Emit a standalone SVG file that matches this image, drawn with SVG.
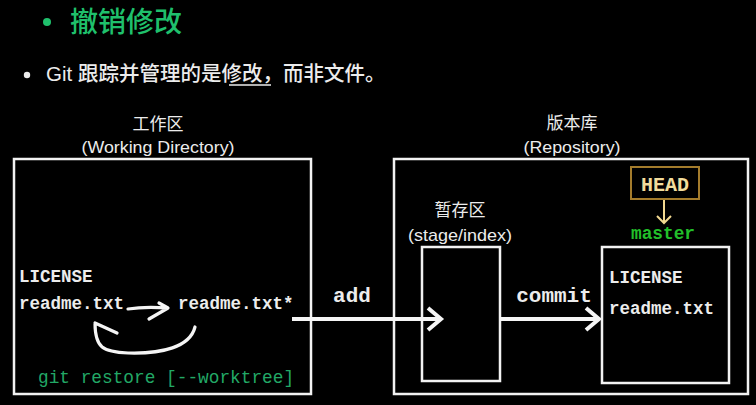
<svg xmlns="http://www.w3.org/2000/svg" width="756" height="405" viewBox="0 0 756 405">
<defs>
<style>
.box{fill:none;stroke:#f2f2f2;stroke-width:2.5}
.cjk{font-family:"Liberation Sans","Noto Sans CJK SC",sans-serif;fill:#ececec}
.lbl{font-family:"Liberation Sans","Noto Sans CJK SC",sans-serif;fill:#ececec;font-size:17px;text-anchor:middle}
.mono{font-family:"Liberation Mono",monospace;font-weight:bold;fill:#ececec;font-size:17.5px}
.cmd{font-family:"Liberation Mono",monospace;font-weight:bold;fill:#ececec;font-size:21px;text-anchor:middle}
.conn{fill:none;stroke:#f5f5f5;stroke-width:4}
.hand{fill:none;stroke:#f5f5f5;stroke-width:3.2;stroke-linecap:round;stroke-linejoin:round}
</style>
<marker id="chev" markerUnits="userSpaceOnUse" viewBox="-16 -14 20 28" refX="0" refY="0" markerWidth="20" markerHeight="28" orient="auto">
<path d="M-13,-11 L0,0 L-13,11" fill="none" stroke="#f5f5f5" stroke-width="4" stroke-linejoin="miter"/>
</marker>
</defs>
<rect width="756" height="405" fill="#000"/>

<g id="title">
<circle cx="47" cy="22" r="4" fill="#1fc06c"/>
<text x="70" y="32" class="cjk" font-size="28" font-weight="500" style="fill:#1fc06c">撤销修改</text>
</g>
<g id="subtitle">
<circle cx="27" cy="75" r="3.2" fill="#ececec"/>
<text x="46" y="81" class="cjk" font-size="20.5" font-weight="500">Git 跟踪并管理的是修改，而非文件。</text>
<line x1="229" y1="85" x2="271" y2="85" stroke="#ececec" stroke-width="1.4"/>
</g>

<g id="working-directory">
<rect class="box" x="14" y="159" width="297" height="235"/>
<text class="lbl" x="158" y="130" font-size="16">工作区</text>
<text class="lbl" x="158" y="153" textLength="153" lengthAdjust="spacingAndGlyphs">(Working Directory)</text>
<text class="mono" x="19" y="282">LICENSE</text>
<text class="mono" x="19" y="309">readme.txt</text>
<text class="mono" x="178" y="309">readme.txt*</text>
<text x="38" y="383" font-family="Liberation Mono,monospace" font-size="17.8" fill="#22a866">git restore [--worktree]</text>
</g>

<g id="repository">
<rect class="box" x="394" y="159" width="354" height="235"/>
<text class="lbl" x="572" y="129" font-size="16">版本库</text>
<text class="lbl" x="572" y="153" textLength="97" lengthAdjust="spacingAndGlyphs">(Repository)</text>
</g>

<g id="stage">
<rect class="box" x="422" y="247" width="78" height="134"/>
<text class="lbl" x="460" y="216" font-size="17">暂存区</text>
<text class="lbl" x="460" y="241" textLength="104" lengthAdjust="spacingAndGlyphs">(stage/index)</text>
</g>

<g id="commit-store">
<rect class="box" x="602" y="247" width="127" height="136"/>
<text class="mono" x="609" y="283">LICENSE</text>
<text class="mono" x="609" y="314">readme.txt</text>
</g>

<g id="head">
<rect x="631" y="167" width="68" height="32" fill="none" stroke="#a47c2c" stroke-width="2"/>
<text x="665" y="191" font-family="Liberation Mono,monospace" font-weight="bold" font-size="20" fill="#f2dc9c" text-anchor="middle">HEAD</text>
</g>
<g id="master">
<text x="663" y="239" font-family="Liberation Mono,monospace" font-weight="bold" font-size="17.8" fill="#22c02a" text-anchor="middle">master</text>
</g>

<g id="connectors">
<line class="conn" x1="292" y1="319" x2="441" y2="319" marker-end="url(#chev)"/>
<text class="cmd" x="352" y="302">add</text>
<line class="conn" x1="500" y1="319" x2="599" y2="319" marker-end="url(#chev)"/>
<text class="cmd" x="554" y="302">commit</text>
<path d="M664,200 L664,223 M657,216 L664,223 L671,216" fill="none" stroke="#f2d890" stroke-width="2"/>
<path class="hand" d="M128,309 C140,307 155,307 168,308 M159,303 L168,308 L149,319"/>
<path class="hand" d="M195,327 C190,347 162,354 128,353 C103,352 95,348 95,323 M95,323 L117,333"/>
</g>
</svg>
